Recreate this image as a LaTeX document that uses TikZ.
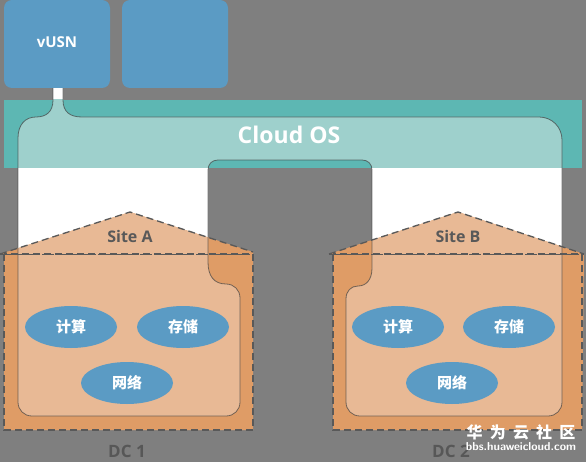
\documentclass[tikz,border=0pt]{standalone}
\usepackage{fontspec}
\setmainfont{Open Sans}
\newfontfamily\cjk{Noto Sans CJK SC}
\newfontfamily\cjkwide{Noto Sans CJK SC}[LetterSpace=45]
\usetikzlibrary{shapes.geometric, positioning}

\definecolor{bggray}{HTML}{7F7F7F}
\definecolor{vmblue}{HTML}{5B9BC4}
\definecolor{osteal}{HTML}{5DB7B3}
\definecolor{oslight}{HTML}{9ED0CC}
\definecolor{dcorange}{HTML}{DF9C66}
\definecolor{dclight}{HTML}{E8B995}
\definecolor{edgegray}{HTML}{595959}

\tikzset{
	vmbox/.style={fill=vmblue, rounded corners=8pt},
	svc/.style={ellipse, fill=vmblue, minimum width=92pt, minimum height=42pt, inner sep=0pt, text=white, font=\cjk\bfseries\fontsize{15}{15}\selectfont},
	sitelabel/.style={text=edgegray, font=\bfseries\fontsize{16}{16}\selectfont},
	dclabel/.style={text=black!66, font=\bfseries\fontsize{17}{17}\selectfont},
	dcbox/.style={edgegray, line width=1.6pt, dash pattern=on 7pt off 4pt},
	dcroof/.style={edgegray, line width=1.3pt, dash pattern=on 7pt off 4pt},
	dcbase/.style={edgegray, line width=0.6pt, dash pattern=on 12pt off 2pt}
}

\newcommand{\cloudshape}{(53,86) -- (53,100) .. controls (53,112) and (46,117) .. (36,117) .. controls (25,117) and (18,125) .. (18,138) -- (18,402) .. controls (18,410) and (24,416) .. (32,416) -- (226,416) .. controls (234,416) and (240,410) .. (240,402) -- (240,298) .. controls (240,290) and (234,284) .. (226,284) .. controls (214,284) and (208,276) .. (208,262) -- (208,170) .. controls (208,164) and (212,160) .. (218,160) -- (362,160) .. controls (368,160) and (372,164) .. (372,170) -- (372,268) .. controls (372,280) and (366,286) .. (358,286) .. controls (351,286) and (346,291) .. (346,299) -- (346,402) .. controls (346,410) and (352,416) .. (360,416) -- (548,416) .. controls (556,416) and (562,410) .. (562,402) -- (562,140) .. controls (562,127) and (552,117) .. (539,117) -- (82,117) .. controls (70,117) and (63,112) .. (63,100) -- (63,86) -- cycle}
\newcommand{\houseA}{(0,254) -- (130,212) -- (253,252) -- (253,430) -- (4,430) -- (4,254) -- cycle}
\newcommand{\houseB}{(329,254) -- (458,212) -- (584,254) -- (582,430) -- (333,430) -- (333,254) -- cycle}

\begin{document}
\begin{tikzpicture}[x=1pt, y=-1pt]
	\fill[bggray] (0,0) rectangle (586,462);
	\useasboundingbox (0,0) rectangle (586,462);
	
	% cloud os
	\fill[white] \cloudshape;
	\fill[osteal] (4,100) rectangle (582,168);
	\begin{scope}
		\clip (4,100) rectangle (582,168);
		\fill[oslight] \cloudshape;
	\end{scope}
	
	% data centres
	\fill[dcorange] \houseA;
	\fill[dcorange] \houseB;
	\begin{scope}
		\clip \houseA \houseB;
		\fill[dclight] \cloudshape;
	\end{scope}
	\draw[black!75, draw opacity=0.7, line width=0.8pt] \cloudshape;
	
	\draw[dcbox] (4,254) rectangle (253,430);
	\draw[dcroof] (0,254) -- (130,212) -- (253,252);
	\draw[dcbase] (0,254) -- (253,254);
	\draw[dcbox] (333,254) rectangle (582,430);
	\draw[dcroof] (329,254) -- (458,212) -- (584,254);
	\draw[dcbase] (329,254) -- (584,254);
	
	\fill[vmbox] (4,0) rectangle (110,88);
	\fill[vmbox] (122,0) rectangle (228,88);
	\node[text=white, font=\bfseries\fontsize{15}{15}\selectfont] (vusn) at (57,42) {vUSN};
	\node[text=white, font=\bfseries\fontsize{23}{23}\selectfont] (cloudos) at (289,135) {Cloud OS};
	
	\node[sitelabel] (siteA) at (130,237) {Site A};
	\node[sitelabel] (siteB) at (458,237) {Site B};
	
	\node[svc] (calcA) at (71,327) {计算};
	\node[svc] (storA) at (183,327) {存储};
	\node[svc] (netA) at (127,383) {网络};
	\node[svc] (calcB) at (398,327) {计算};
	\node[svc] (storB) at (509,327) {存储};
	\node[svc] (netB) at (452,383) {网络};
	
	\node[dclabel] (dc1) at (127,451) {DC 1};
	\node[dclabel] (dc2) at (451,451) {DC 2};
	
	\node[text=white, font=\cjkwide\bfseries\fontsize{16}{16}\selectfont] (mark) at (521,432) {华为云社区};
	\node[text=white, font=\sffamily\bfseries\fontsize{11.5}{11.5}\selectfont, below=-4pt of mark] (site) {bbs.huaweicloud.com};
\end{tikzpicture}
\end{document}
